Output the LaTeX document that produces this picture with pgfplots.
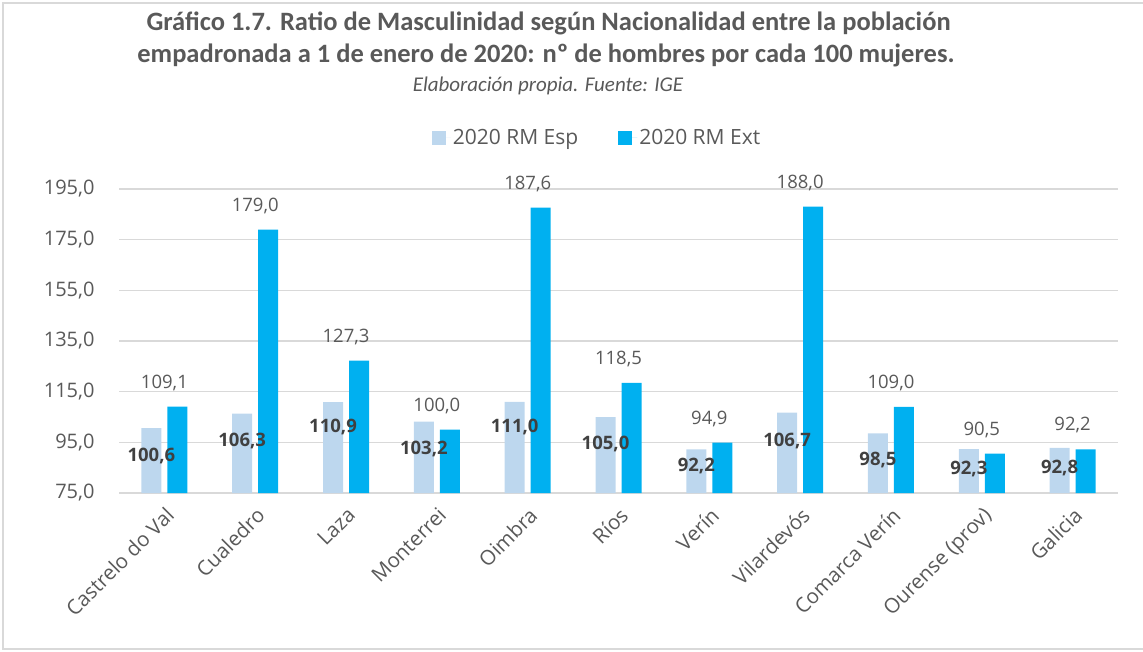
\documentclass[border=0pt]{standalone}
\usepackage{fontspec}
\setmainfont{Carlito}
\newfontfamily\osans{Open Sans}
\usepackage{pgfplots}
\pgfplotsset{compat=1.18}
\usepackage{pgfplotstable}
\definecolor{esp}{HTML}{BDD7EE}
\definecolor{ext}{HTML}{00B0F0}
\definecolor{txt}{HTML}{595959}
\definecolor{dtxt}{HTML}{404040}
\definecolor{grd}{HTML}{D9D9D9}

\pgfplotstableread{
x esp ext espl
0 100.6 109.1 89.6
1 106.3 179.0 95.5
2 110.9 127.3 101.1
3 103.2 100.0 92.4
4 111.0 187.6 101.1
5 105.0 118.5 94.4
6 92.2 94.9 85.7
7 106.7 188.0 95.5
8 98.5 109.0 88.0
9 92.3 90.5 84.5
10 92.8 92.2 84.9
}\datatable

\begin{document}
\begin{tikzpicture}[x=1pt,y=1pt]
\path[use as bounding box] (0,0) rectangle (1143,651);
\draw[grd, line width=1.5] (1150,648) -- (3,648) -- (3,2) -- (1150,2);
\node[anchor=base, text=txt, font=\fontsize{26.5}{30}\selectfont\bfseries] at (548.5,620) {Gráfico 1.7. Ratio de Masculinidad según Nacionalidad entre la población};
\node[anchor=base, text=txt, font=\fontsize{26.5}{30}\selectfont\bfseries] at (546,588) {empadronada a 1 de enero de 2020: nº de hombres por cada 100 mujeres.};
\node[anchor=base, text=txt, font=\fontsize{21}{25}\selectfont\itshape] at (548,559) {Elaboración propia. Fuente: IGE};
\begin{axis}[
  at={(119pt,158pt)}, anchor=south west,
  scale only axis, width=999pt, height=304pt,
  xmin=-0.5, xmax=10.5, ymin=75, ymax=195,
  ytick={75,95,...,195},
  xtick={0,...,10},
  xticklabels={Castrelo do Val, Cualedro, Laza, Monterrei, Oimbra, Ríos, Verín, Vilardevós, Comarca Verín, Ourense (prov), Galicia},
  axis lines*=left,
  y axis line style={draw=none},
  x axis line style={grd, line width=1.5pt},
  ymajorgrids,
  major grid style={grd, line width=1.3pt},
  major tick length=0pt,
  tick label style={font=\osans\fontsize{20}{24}\selectfont, text=txt},
  yticklabel style={xshift=-21pt},
  xticklabel style={font=\osans\fontsize{20.5}{24}\selectfont, xshift=0pt, yshift=-8pt, rotate=45, anchor=north east},
  legend style={at={(axis description cs:0.4785,1.168)}, anchor=center, draw=none, fill=none, legend columns=2, font=\osans\fontsize{21}{25}\selectfont, text=txt, /tikz/every even column/.append style={column sep=38pt}},
  /pgf/number format/.cd, fixed, fixed zerofill, precision=1, use comma, assume math mode=true
]
\addplot[ybar, bar width=20pt, bar shift=-13pt, fill=esp, draw=none,
  legend image code/.code={\fill[esp] (0pt,-7pt) rectangle (14pt,7pt); \path (0pt,0pt) -- (19pt,0pt);}]
  table[x=x,y=esp]{\datatable};
\addlegendentry{2020 RM Esp}
\addplot[ybar, bar width=20pt, bar shift=13pt, fill=ext, draw=none,
  legend image code/.code={\fill[ext] (0pt,-7pt) rectangle (14pt,7pt); \path (0pt,0pt) -- (19pt,0pt);},
  nodes near coords,
  every node near coord/.append style={anchor=center, yshift=24pt, text=txt, font=\osans\fontsize{18.5}{22}\selectfont}]
  table[x=x,y=ext]{\datatable};
\addlegendentry{2020 RM Ext}
\addplot[draw=none, mark=none, forget plot, nodes near coords, point meta=explicit,
  every node near coord/.append style={anchor=center, xshift=-13pt, text=dtxt, font=\osans\bfseries\fontsize{18.5}{22}\selectfont}]
  table[x=x,y=espl,meta=esp]{\datatable};
\end{axis}
\end{tikzpicture}
\end{document}
